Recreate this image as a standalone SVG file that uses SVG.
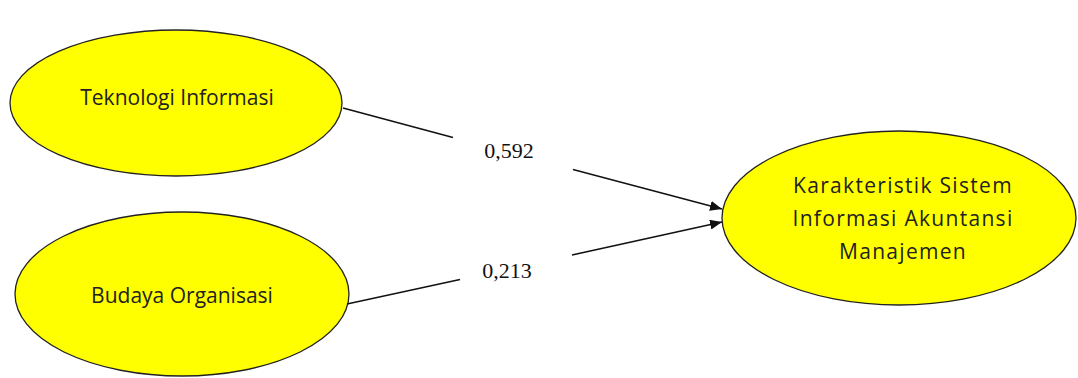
<svg xmlns="http://www.w3.org/2000/svg" width="1078" height="378" viewBox="0 0 1078 378">
<style>
.node{fill:#ffff00;stroke:#222;stroke-width:1.3}
.nt{font-family:"Open Sans","Liberation Sans",sans-serif;font-size:21px;fill:#222;text-anchor:middle}
.wide{letter-spacing:1.3px}
.lbl{font-family:"Liberation Serif",serif;font-size:22px;fill:#111;text-anchor:middle}
.edge{stroke:#111;stroke-width:1.5;fill:none}
</style>
<defs>
<marker id="arr" viewBox="0 0 12 10" refX="12" refY="5" markerWidth="12" markerHeight="10" markerUnits="userSpaceOnUse" orient="auto">
<path d="M0,0 L12,5 L0,10 z" fill="#111"/>
</marker>
</defs>
<rect width="1078" height="378" fill="#fff"/>
<g id="n1">
<ellipse class="node" cx="176" cy="103" rx="166" ry="73"/>
<text class="nt" x="177" y="105">Teknologi Informasi</text>
</g>
<g id="n2">
<ellipse class="node" cx="182" cy="294" rx="167" ry="82"/>
<text class="nt" x="182" y="303">Budaya Organisasi</text>
</g>
<g id="n3">
<ellipse class="node" cx="899" cy="218" rx="177" ry="87"/>
<text class="nt wide" x="903" y="193">Karakteristik Sistem</text>
<text class="nt wide" x="903" y="226">Informasi Akuntansi</text>
<text class="nt wide" x="903" y="259">Manajemen</text>
</g>
<g id="edges">
<line class="edge" x1="343" y1="108" x2="453" y2="137.5"/>
<line class="edge" x1="573" y1="169.5" x2="722" y2="209" marker-end="url(#arr)"/>
<line class="edge" x1="347" y1="304" x2="460" y2="279.5"/>
<line class="edge" x1="572" y1="255" x2="722" y2="222" marker-end="url(#arr)"/>
<text class="lbl" x="509" y="158">0,592</text>
<text class="lbl" x="507" y="278">0,213</text>
</g>
</svg>
